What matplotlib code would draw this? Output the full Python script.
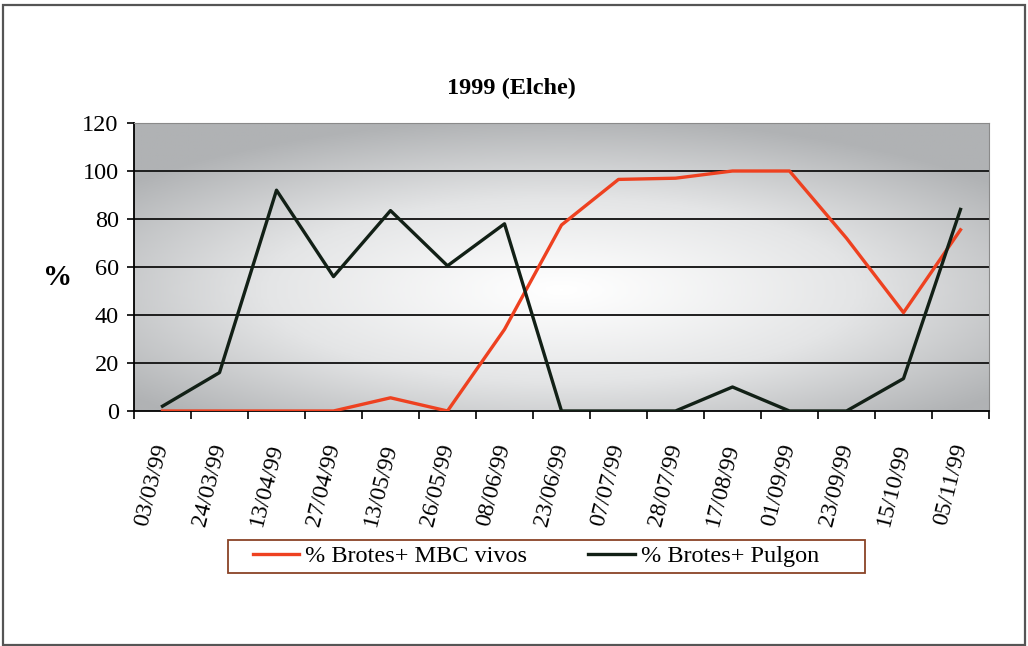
import numpy as np
import matplotlib
matplotlib.use('Agg')
import matplotlib.pyplot as plt
from matplotlib.colors import LinearSegmentedColormap
from matplotlib.patches import Rectangle

plt.rcParams['font.family'] = 'serif'
plt.rcParams['font.serif'] = ['Liberation Serif', 'Times New Roman', 'DejaVu Serif']

fechas = ['03/03/99', '24/03/99', '13/04/99', '27/04/99', '13/05/99',
          '26/05/99', '08/06/99', '23/06/99', '07/07/99', '28/07/99',
          '17/08/99', '01/09/99', '23/09/99', '15/10/99', '05/11/99']
mbc_vivos = [0, 0, 0, 0, 5.5, 0, 34, 77.5, 96.5, 97, 100, 100, 72, 41, 75.5]
pulgon = [2, 16, 92, 56, 83.5, 60.5, 78, 0, 0, 0, 10, 0, 0, 13.5, 84]

W, H = 1028, 646
fig = plt.figure(figsize=(W / 100, H / 100), dpi=100)
fig.patch.set_facecolor('white')
ax = fig.add_axes([134 / W, 1 - 411 / H, 855 / W, 288 / H])

# gris con centro claro, como el relleno de Excel
gx, gy = np.meshgrid(np.linspace(0, 1, 400), np.linspace(0, 1, 200))
r = np.sqrt(((gx - 0.5) / 0.65) ** 2 + ((gy - 0.58) / 0.6) ** 2)
val = np.clip(r, 0, 1) ** 1.1
cmap = LinearSegmentedColormap.from_list('fondo', ['#ffffff', '#e4e5e6', '#b0b2b4'])
ax.imshow(val, cmap=cmap, extent=(-0.5, 14.5, 0, 120), aspect='auto',
          origin='upper', zorder=0, vmin=0, vmax=1)

x = np.arange(len(fechas))
for yv in range(20, 120, 20):
    ax.axhline(yv, color='#1e1e1e', lw=1.4, zorder=1)

ax.plot(x, mbc_vivos, color='#ee4120', lw=2.4, label='% Brotes+ MBC vivos', zorder=3)
ax.plot(x, pulgon, color='#122016', lw=2.4, label='% Brotes+ Pulgon', zorder=3)

ax.set_xlim(-0.5, 14.5)
ax.set_ylim(0, 120)
ax.set_yticks(range(0, 121, 20))
ax.tick_params(axis='y', labelsize=17.5, length=5, width=1.2, pad=6, direction='out')

ax.set_xticks(x)
ax.set_xticklabels(fechas, rotation=76, ha='right', va='center', rotation_mode='anchor')
ax.set_xticks(np.arange(-0.5, 15, 1), minor=True)
ax.tick_params(axis='x', which='major', length=0, labelsize=17, pad=24)
ax.tick_params(axis='x', which='minor', length=6, width=1.2, direction='out')

for s in ['left', 'bottom']:
    ax.spines[s].set_color('black')
    ax.spines[s].set_linewidth(1.3)
for s in ['top', 'right']:
    ax.spines[s].set_color('#8a8a8a')
    ax.spines[s].set_linewidth(0.8)

fig.text(511 / W, 1 - 88 / H, '1999 (Elche)', fontsize=17.5, fontweight='bold',
         ha='center', va='center')
fig.text(58 / W, 1 - 277 / H, '%', fontsize=21, fontweight='bold', ha='center', va='center')

# leyenda con marco dibujado aparte
leg = fig.legend(loc='center', bbox_to_anchor=(536 / W, 1 - 556 / H), ncol=2,
                 fontsize=17.5, frameon=False,
                 handlelength=1.93, handletextpad=0.25, columnspacing=2.5,
                 borderpad=0, borderaxespad=0)
fig.add_artist(Rectangle((228 / W, 1 - 573 / H), 637 / W, 33 / H,
                         transform=fig.transFigure, fill=False,
                         edgecolor='#8a4326', lw=1.3))

fig.add_artist(Rectangle((3 / W, 1 / H), 1022 / W, 640 / H,
                         transform=fig.transFigure, fill=False,
                         edgecolor='#555555', lw=1.6))

fig.savefig('out.png', dpi=100)
